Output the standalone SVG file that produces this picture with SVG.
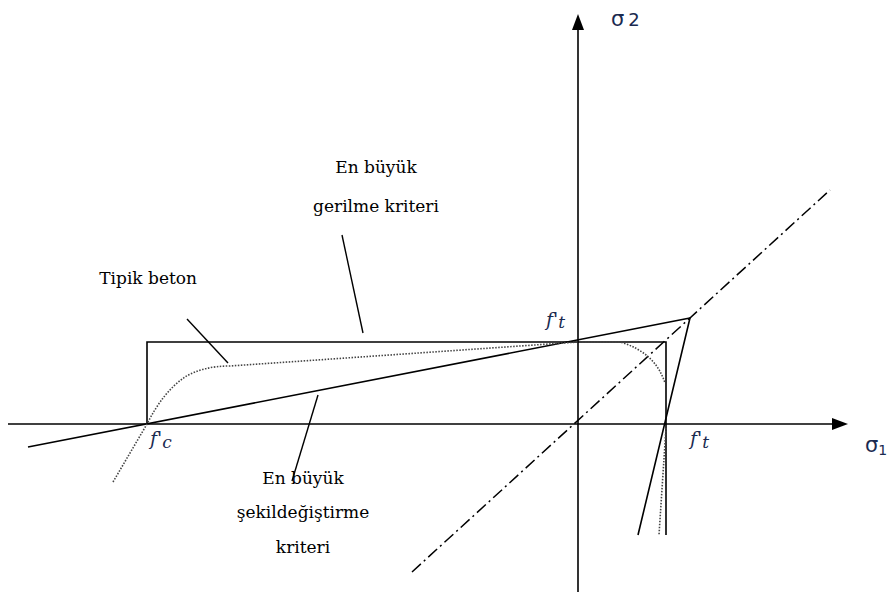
<svg xmlns="http://www.w3.org/2000/svg" width="892" height="592" viewBox="0 0 892 592">
<defs>
<style>
.ln{stroke:#000;stroke-width:1.6;fill:none}
.ax{stroke:#000;stroke-width:1.6;fill:none}
.dot{stroke:#444;stroke-width:1.6;fill:none;stroke-dasharray:1.5 1.5}
.dd{stroke:#000;stroke-width:1.5;fill:none;stroke-dasharray:12 4 2 4}
.lead{stroke:#000;stroke-width:1.4;fill:none}
.t{font-family:"DejaVu Serif","Liberation Serif",serif;font-size:17px;fill:#000}
.s{font-family:"DejaVu Sans","Liberation Sans",sans-serif;font-size:21px;fill:#1a2a50}
.f{font-family:"DejaVu Serif","Liberation Serif",serif;font-size:19px;font-style:italic;fill:#1a2a50}
</style>
</defs>
<rect width="892" height="592" fill="#fff"/>
<g id="connectors">
<line class="ax" x1="8" y1="424" x2="836" y2="424"/>
<polygon points="848,424 832,418 832,430" fill="#000"/>
<line class="ax" x1="578" y1="595" x2="578" y2="27"/>
<polygon points="578,14 572,30 584,30" fill="#000"/>
<line class="dd" x1="412" y1="572" x2="830" y2="190"/>
<polyline class="ln" points="147,424 147,342 666,342 666,535"/>
<polyline class="ln" points="28,447 690,318 638,535"/>
<path class="dot" d="M113,482 L147,424 Q163,392 185,377 Q203,366 230,366 L578,342 L620,342 Q655,352 665,383"/>
<line class="dot" x1="666" y1="428" x2="659" y2="535"/>
<line class="lead" x1="342" y1="235" x2="363" y2="333"/>
<line class="lead" x1="187" y1="319" x2="228" y2="363"/>
<line class="lead" x1="292" y1="481" x2="318" y2="395"/>
</g>
<g id="label-sigma2"><text class="s" x="611" y="26">σ<tspan dx="4" font-size="18">2</tspan></text></g>
<g id="label-sigma1"><text class="s" x="865" y="452">σ<tspan font-size="14" dy="3">1</tspan></text></g>
<g id="label-max-stress"><text class="t" x="376" y="173" text-anchor="middle">En büyük</text><text class="t" x="376" y="212" text-anchor="middle">gerilme kriteri</text></g>
<g id="label-typical"><text class="t" x="197" y="284" text-anchor="end">Tipik beton</text></g>
<g id="label-ft-top"><text class="f" x="546" y="326">f'<tspan font-size="17" dy="2">t</tspan></text></g>
<g id="label-fc"><text class="f" x="150" y="445">f'<tspan font-size="17" dy="3">c</tspan></text></g>
<g id="label-ft-right"><text class="f" x="690" y="445">f'<tspan font-size="17" dy="3">t</tspan></text></g>
<g id="label-max-strain"><text class="t" x="303" y="484" text-anchor="middle">En büyük</text><text class="t" x="303" y="518" text-anchor="middle">şekildeğiştirme</text><text class="t" x="303" y="553" text-anchor="middle">kriteri</text></g>
</svg>
